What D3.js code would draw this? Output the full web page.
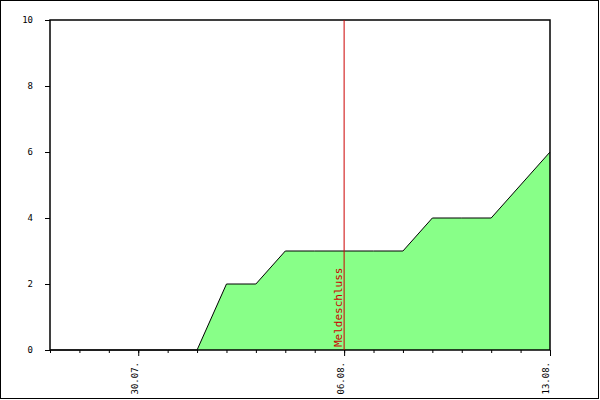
<!DOCTYPE html>
<html><head><meta charset="utf-8">
<script src="https://cdn.jsdelivr.net/npm/d3@7"></script>
<style>body{margin:0;background:#fff}</style></head>
<body><svg id="c" width="600" height="400"></svg>
<script>
const dates = ["27.07.","28.07.","29.07.","30.07.","31.07.","01.08.","02.08.","03.08.","04.08.","05.08.","06.08.","07.08.","08.08.","09.08.","10.08.","11.08.","12.08.","13.08."];
const values = [0,0,0,0,0,0,2,2,3,3,3,3,3,4,4,4,5,6];
const xTickLabels = ["30.07.","06.08.","13.08."];
const yTicks = [0,2,4,6,8,10];
const markerDate = "06.08.";
const markerLabel = "Meldeschluss";

const svg = d3.select("#c");
const L=50,R=550,T=20,B=350;
const x = d3.scalePoint().domain(dates).range([L,R]);
const y = d3.scaleLinear().domain([0,10]).range([B,T]);
const font = "'DejaVu Sans Mono', monospace";

svg.append("rect").attr("x",0.5).attr("y",0.5).attr("width",598).attr("height",398)
  .attr("fill","#fff").attr("stroke","#000");

svg.append("path").datum(values)
  .attr("d", d3.area().x((d,i)=>x(dates[i])).y0(y(0)).y1(d=>y(d)))
  .attr("fill","#88ff88");
svg.append("path").datum(values)
  .attr("d", d3.line().x((d,i)=>x(dates[i])).y(d=>y(d)))
  .attr("fill","none").attr("stroke","#000");

svg.append("rect").attr("x",L).attr("y",T).attr("width",R-L).attr("height",B-T)
  .attr("fill","none").attr("stroke","#000").attr("stroke-width",1.5);

// y axis
const ya = svg.append("g").attr("transform",`translate(${L},0)`)
  .call(d3.axisLeft(y).tickValues(yTicks).tickSize(5).tickPadding(12));
ya.select(".domain").remove();
ya.selectAll("text").style("font-family",font).style("font-size","9px");

// x axis minor
const xm = svg.append("g").attr("transform",`translate(0,${B})`)
  .call(d3.axisBottom(x).tickValues(dates).tickSize(3).tickFormat(""));
xm.select(".domain").remove();
const xa = svg.append("g").attr("transform",`translate(0,${B})`)
  .call(d3.axisBottom(x).tickValues(xTickLabels).tickSize(6));
xa.select(".domain").remove();
xa.selectAll("text").style("font-family",font).style("font-size","9px")
  .attr("transform","rotate(-90)").attr("text-anchor","end")
  .attr("x",-12).attr("y",-4).attr("dy","0.32em");

// marker
const mx = x(markerDate);
svg.append("line").attr("x1",mx).attr("x2",mx).attr("y1",T).attr("y2",B)
  .attr("stroke","#cc0000");
svg.append("text").attr("transform",`translate(${mx-2},${B-3}) rotate(-90)`)
  .attr("fill","#cc0000").style("font-family",font).style("font-size","11px")
  .text(markerLabel);
</script></body></html>
